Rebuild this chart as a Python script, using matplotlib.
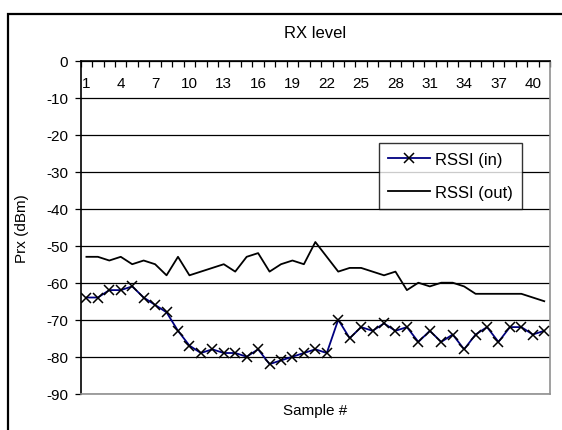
import numpy as np
import matplotlib
matplotlib.use('Agg')
import matplotlib.pyplot as plt
from matplotlib.patches import Rectangle

plt.rcParams['font.family'] = ['Liberation Sans', 'DejaVu Sans']
plt.rcParams['axes.unicode_minus'] = False

# received level per sample (dBm)
samples = np.arange(1, 42)
rssi_in = [-64, -64, -62, -62, -61, -64, -66, -68, -73, -77,
           -79, -78, -79, -79, -80, -78, -82, -81, -80, -79,
           -78, -79, -70, -75, -72, -73, -71, -73, -72, -76,
           -73, -76, -74, -78, -74, -72, -76, -72, -72, -74, -73]
rssi_out = [-53, -53, -54, -53, -55, -54, -55, -58, -53, -58,
            -57, -56, -55, -57, -53, -52, -57, -55, -54, -55,
            -49, -53, -57, -56, -56, -57, -58, -57, -62, -60,
            -61, -60, -60, -61, -63, -63, -63, -63, -63, -64, -65]
label_samples = samples[::3]

fig = plt.figure(figsize=(5.62, 4.31), dpi=100, facecolor='white')
ax = fig.add_axes([0.1436, 0.0842, 0.835, 0.7726])

# outer chart frame, runs off the right and bottom edges
fig.patches.append(Rectangle((7.7/562, -0.2), 1.2, 0.9652 + 0.2,
                             transform=fig.transFigure, fill=False,
                             edgecolor='black', linewidth=1.6))

ax.plot(samples, rssi_in, color='#000080', linewidth=1.3, marker='x',
        markersize=6.5, markeredgecolor='black', markeredgewidth=1.1,
        label='RSSI (in)', zorder=3)
ax.plot(samples, rssi_out, color='black', linewidth=1.3,
        label='RSSI (out)', zorder=3)

ax.set_xlim(0.5, 41.5)
ax.set_ylim(-90, 0)
ax.set_yticks(np.arange(-90, 1, 10))
ax.yaxis.grid(True, color='black', linewidth=0.9)
ax.set_axisbelow(True)
ax.tick_params(axis='y', direction='out', length=4, width=0.9,
               labelsize=11, pad=5)

# category axis sits at 0, along the top, labels hang below it
ax.set_xticks(np.arange(0.5, 42, 1))
ax.set_xticks(label_samples, minor=True)
ax.set_xticklabels(label_samples, minor=True)
ax.tick_params(axis='x', which='major', top=True, bottom=False,
               labeltop=False, labelbottom=False, direction='in',
               length=4, width=0.9)
ax.tick_params(axis='x', which='minor', top=True, bottom=False,
               labeltop=True, labelbottom=False, length=0,
               labelsize=11, pad=-21)

for side in ('left', 'top'):
    ax.spines[side].set_color('black')
    ax.spines[side].set_linewidth(1.2)
for side in ('right', 'bottom'):
    ax.spines[side].set_color('#909090')
    ax.spines[side].set_linewidth(1.2)

fig.text(315/562, 1 - 33/431, 'RX level', ha='center', va='center',
         fontsize=12)
ax.set_ylabel('Prx (dBm)', fontsize=11, va='center')
ax.yaxis.set_label_coords(-0.125, 0.5)
ax.set_xlabel('Sample #', fontsize=11, va='center')
ax.xaxis.set_label_coords(0.5, -0.05)

leg = ax.legend(loc='upper right', bbox_to_anchor=(0.9397, 0.7529),
                borderaxespad=0, fontsize=12, frameon=True, fancybox=False,
                handlelength=2.5, handletextpad=0.3, labelspacing=1.05,
                borderpad=0.55)
leg.get_frame().set_edgecolor('black')
leg.get_frame().set_linewidth(1.0)

fig.savefig('out.png', dpi=100, facecolor='white')
